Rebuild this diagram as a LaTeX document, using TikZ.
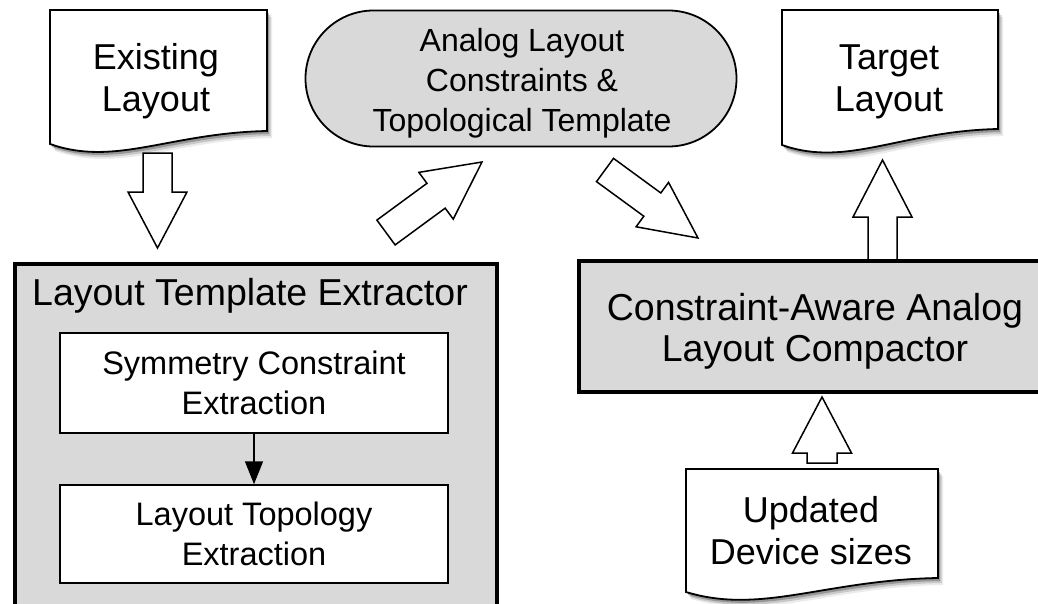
\documentclass[tikz,border=0pt]{standalone}
\usepackage{fontspec}
\setmainfont{Liberation Sans}
\usetikzlibrary{shadows,arrows.meta,calc}
\definecolor{boxgray}{RGB}{217,217,217}
\newcommand{\docpath}[5]{%
  \path[docstyle] (#1,#2) -- (#3,#2) -- (#3,#5)
    .. controls ({#1+0.55*(#3-#1)},{#5+2}) and ({#1+0.3*(#3-#1)},{#4+23}) .. (#1,#4) -- cycle;}
\newcommand{\blockarrow}[5]{%
  \coordinate (#1h) at ($(#2)!#5!(#1)$);
  \draw[blockarr] ($(#1)!#3!90:(#2)$) -- ($(#1h)!#3!-90:(#1)$) -- ($(#1h)!#4!-90:(#1)$)
    -- (#2) -- ($(#1h)!#4!90:(#1)$) -- ($(#1h)!#3!90:(#1)$) -- ($(#1)!#3!-90:(#2)$) -- cycle;}
\begin{document}
\begin{tikzpicture}[x=1pt,y=-1pt,
  docstyle/.style={draw=black, line width=1.8pt, fill=white,
    drop shadow={shadow xshift=5pt, shadow yshift=-7pt, opacity=0.08, fill=black},
    drop shadow={shadow xshift=3.5pt, shadow yshift=-5pt, opacity=0.15, fill=black},
    drop shadow={shadow xshift=2pt, shadow yshift=-3pt, opacity=0.25, fill=black}},
  bigbox/.style={draw=black, line width=3.5pt, fill=boxgray, inner sep=0pt},
  inbox/.style={draw=black, line width=1.5pt, fill=white, align=center, inner sep=0pt,
    minimum width=388pt, font=\fontsize{32.5}{40}\selectfont},
  blockarr/.style={draw=black, line width=1.5pt, fill=white, line join=miter},
  doctext/.style={align=center, inner sep=0pt, font=\fontsize{36}{42}\selectfont},
  bigtext/.style={align=center, inner sep=0pt, font=\fontsize{37.5}{41.7}\selectfont},
]
\useasboundingbox (0,0) rectangle (1038,603);

% documents
\docpath{50}{10}{267}{144}{131}
\node[doctext] (existing) at (156,81.6) {Existing\\Layout};
\docpath{782}{10}{998}{145}{129}
\node[doctext] (target) at (889,81.6) {Target\\Layout};
\docpath{686}{469}{938}{592}{578}
\node[doctext] (updated) at (811,531) {Updated\\Device sizes};

% oval
\node[draw=black, line width=1.8pt, fill=boxgray, rounded corners=68pt,
  minimum width=431pt, minimum height=136pt, inner sep=0pt] (oval) at (521,78.5) {};
\node[align=center, inner sep=0pt, font=\fontsize{32}{40}\selectfont] (ovaltext) at (522,83.4)
  {Analog Layout\\Constraints \&\\Topological Template};

% block arrows
\coordinate (ar1s) at (157.5,153); \coordinate (ar1e) at (157.5,248);
\blockarrow{ar1s}{ar1e}{14.5pt}{29.5pt}{56pt}
\coordinate (ar2s) at (386,232.5); \coordinate (ar2e) at (482,162);
\blockarrow{ar2s}{ar2e}{15.4pt}{29pt}{57pt}
\coordinate (ar3s) at (605,170); \coordinate (ar3e) at (698,238);
\blockarrow{ar3s}{ar3e}{14.4pt}{27.5pt}{56.6pt}
\coordinate (ar4s) at (882.5,262); \coordinate (ar4e) at (882.5,160);
\blockarrow{ar4s}{ar4e}{14.5pt}{29.5pt}{57pt}
\coordinate (ar5s) at (822,463); \coordinate (ar5e) at (822,397);
\blockarrow{ar5s}{ar5e}{15pt}{29.5pt}{56pt}

% extractor
\node[bigbox, anchor=north west, minimum width=482pt, minimum height=400pt] (ext) at (13,262) {};
\node[bigtext, anchor=base] (exttitle) at (250,305) {Layout Template Extractor};
\node[inbox, minimum height=100pt] (sym) at (254,383) {Symmetry Constraint\\Extraction};
\node[inbox, minimum height=98pt] (topo) at (254,534) {Layout Topology\\Extraction};
\draw[line width=1.5pt, -{Triangle[width=18pt,length=23pt]}] (sym.south) -- (topo.north);

% compactor
\node[bigbox, anchor=north west, minimum width=478pt, minimum height=131pt] (cmp) at (577,259) {};
\node[bigtext] (cmptext) at (815,331.2) {Constraint-Aware Analog\\Layout Compactor};
\end{tikzpicture}
\end{document}
